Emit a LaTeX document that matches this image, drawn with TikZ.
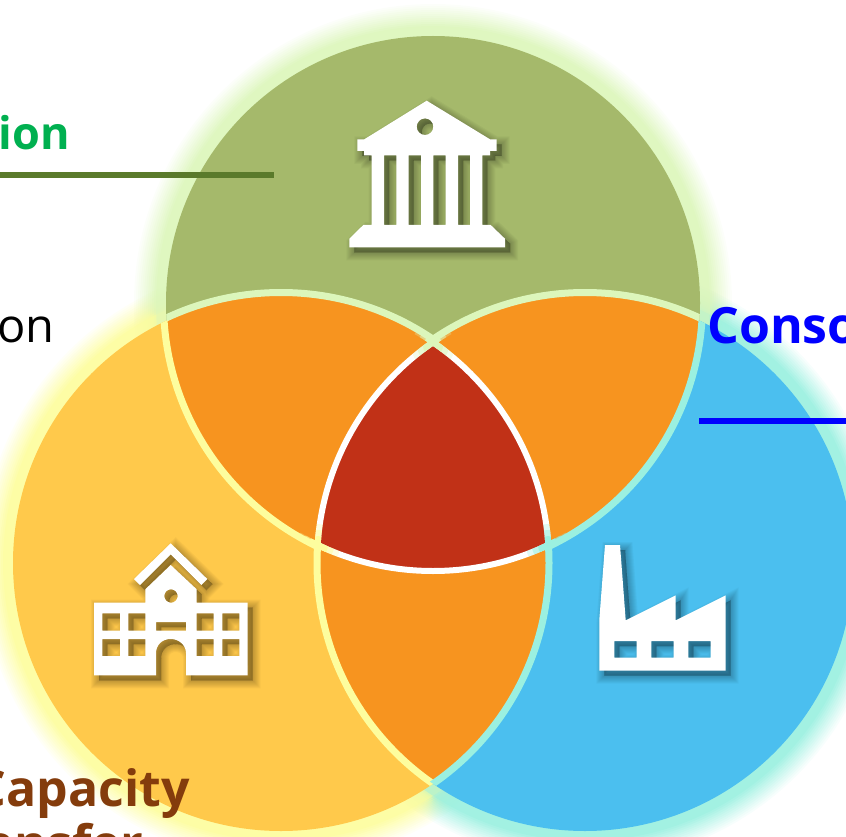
\documentclass[tikz,border=0pt]{standalone}
\usepackage{fontspec}
\setmainfont{Open Sans}
\definecolor{govgreen}{RGB}{165,185,107}
\definecolor{govglow}{RGB}{220,246,187}
\definecolor{schoolyellow}{RGB}{255,201,75}
\definecolor{schoolglow}{RGB}{253,253,158}
\definecolor{firmblue}{RGB}{75,191,239}
\definecolor{firmglow}{RGB}{155,240,224}
\definecolor{lensorange}{RGB}{247,148,31}
\definecolor{corered}{RGB}{193,49,23}
\definecolor{linegreen}{RGB}{90,122,43}
\definecolor{textbrown}{RGB}{132,60,12}
\tikzset{
  bold label/.style={anchor=base west, inner sep=0pt, font=\fontsize{50}{60}\selectfont\bfseries},
  icon/.style={fill=white, even odd rule},
  icon shadow/.style={black, opacity=0.03, even odd rule, shift={(5,5)}, draw=black},
  rule/.style={line width=6pt},
  gap/.style={line width=7pt},
  whitegap/.style={line width=6pt, white},
}
\newcommand{\topdisc}{(433,303) circle (267pt)}
\newcommand{\leftdisc}{(281,563) circle (268pt)}
\newcommand{\rightdisc}{(585,563) circle (268pt)}
\newcommand{\topgap}{(433,303) circle (269.5pt)}
\newcommand{\leftgap}{(281,563) circle (270.5pt)}
\newcommand{\rightgap}{(585,563) circle (270.5pt)}
\newcommand{\topwhite}{(433,303) circle (268pt)}
\newcommand{\leftwhite}{(281,563) circle (268pt)}
\newcommand{\rightwhite}{(585,563) circle (268pt)}
\newcommand{\canvas}{(0,0) rectangle (846,837)}
\newcommand{\bankicon}{(426.7,100.7) -- (490,139.3) -- (496.7,139.3) -- (496.7,151) -- (490,151) -- (490,155.3) -- (482.3,155.3)
  -- (482.3,225) -- (490.7,225) -- (505,238.7) -- (505,247.3) -- (349.3,247.3) -- (349.3,238.7) -- (363.3,225) -- (371.7,225)
  -- (371.7,155.3) -- (364,155.3) -- (364,151) -- (357.3,151) -- (357.3,139.3) -- (364.3,139.3) -- cycle
  (425,126.7) circle (8.3pt)
  (384,155.3) rectangle (396.3,225) (408.7,155.3) rectangle (421,225)
  (433.3,155.3) rectangle (445.7,225) (458,155.3) rectangle (470,225)}
\newcommand{\schoolicon}{(170.7,543.3) -- (207.3,579) -- (201.3,585) -- (170.7,554.3) -- (140,585) -- (134,579) -- cycle
  (170.7,565) -- (196.7,589.3) -- (196.7,602.7) -- (247.7,602.7) -- (247.7,675.3) -- (186,675.3) -- (186,653.3)
  .. controls (186,645) and (179,639) .. (170.7,639) .. controls (162,639) and (156,645) .. (156,653.3)
  -- (156,675.3) -- (94,675.3) -- (94,602.7) -- (145.3,602.7) -- (145.3,589.3) -- cycle
  (171,596) circle (6.7pt) (156,622) rectangle (186,630.7)
  (102.3,613.3) rectangle (120,630.7) (128.3,613.3) rectangle (145.3,630.7)
  (196.7,613.3) rectangle (213.7,630.7) (222.3,613.3) rectangle (239.3,630.7)
  (102.3,639) rectangle (120,656) (128.3,639) rectangle (145.3,656)
  (196.7,639) rectangle (213.7,656) (222.3,639) rectangle (239.3,656)}
\newcommand{\factoryicon}{(605,545) -- (620,545) -- (625.7,620.3) -- (675.7,595.3) -- (675.7,620.3) -- (725.7,595.3)
  -- (725.7,670.7) -- (599.3,670.7) -- (599.3,620) -- cycle
  (614.3,641) rectangle (636.7,657.7) (651.3,641) rectangle (673.7,657.7) (688.3,641) rectangle (710.7,657.7)}
\begin{document}
\begin{tikzpicture}[x=1pt,y=-1pt]
  \useasboundingbox \canvas;
  \clip \canvas;
  % glow behind the discs
  \foreach \d [count=\k] in {32,30,...,10} {
    \pgfmathsetmacro{\o}{1/(14-\k)}
    \fill[schoolglow, opacity=\o] (281,563) circle ({268pt+\d pt});
    \fill[firmglow, opacity=\o] (585,563) circle ({268pt+\d pt});
    \fill[govglow, opacity=\o] (433,303) circle ({267pt+\d pt});
  }
  \fill[schoolyellow] \leftdisc;
  \fill[firmblue] \rightdisc;
  \fill[govgreen] \topdisc;
  % overlaps
  \begin{scope}
    \clip \topdisc;
    \fill[lensorange] \leftdisc;
    \fill[lensorange] \rightdisc;
  \end{scope}
  \begin{scope}
    \clip \leftdisc;
    \fill[lensorange] \rightdisc;
  \end{scope}
  % pale lines, each inside one disc and outside the third
  \begin{scope}[even odd rule]
    \clip \topdisc;
    \clip \canvas \rightdisc;
    \draw[gap, govglow] \leftgap;
  \end{scope}
  \begin{scope}[even odd rule]
    \clip \topdisc;
    \clip \canvas \leftdisc;
    \draw[gap, govglow] \rightgap;
  \end{scope}
  \begin{scope}[even odd rule]
    \clip \leftdisc;
    \clip \canvas \rightdisc;
    \draw[gap, schoolglow] \topgap;
  \end{scope}
  \begin{scope}[even odd rule]
    \clip \leftdisc;
    \clip \canvas \topdisc;
    \draw[gap, schoolglow] \rightdisc;
  \end{scope}
  \begin{scope}[even odd rule]
    \clip \rightdisc;
    \clip \canvas \leftdisc;
    \draw[gap, firmglow] \topgap;
  \end{scope}
  \begin{scope}[even odd rule]
    \clip \rightdisc;
    \clip \canvas \topdisc;
    \draw[gap, firmglow] \leftdisc;
  \end{scope}
  \begin{scope}
    \clip \topdisc;
    \clip \leftdisc;
    \fill[corered] \rightdisc;
    \draw[whitegap] \rightwhite;
  \end{scope}
  \begin{scope}
    \clip \topdisc;
    \clip \rightdisc;
    \draw[whitegap] \leftwhite;
  \end{scope}
  \begin{scope}
    \clip \leftdisc;
    \clip \rightdisc;
    \draw[whitegap] \topwhite;
  \end{scope}
  % the white lines turn pale where they meet
  \foreach \cx/\cy/\c in {433/346/govglow,318/546/schoolglow,548/546/firmglow} {
    \foreach \s/\o in {22/.3,16/.5,10/1} {
      \begin{scope}
        \clip (\cx,\cy) circle (\s pt);
        \draw[whitegap, draw=\c, opacity=\o] \topwhite;
        \draw[whitegap, draw=\c, opacity=\o] \leftwhite;
        \draw[whitegap, draw=\c, opacity=\o] \rightwhite;
      \end{scope}
    }
  }
  % icons with their soft shadows
  \foreach \w in {16,14,...,0} {
    \fill[icon shadow, line width=\w pt] \bankicon;
    \fill[icon shadow, line width=\w pt] \schoolicon;
    \fill[icon shadow, line width=\w pt] \factoryicon;
  }
  \fill[icon] \bankicon;
  \fill[icon] \schoolicon;
  \fill[icon] \factoryicon;
  % leaders and labels
  \coordinate (govstart) at (0,175);
  \coordinate (govend) at (274,175);
  \coordinate (firmstart) at (699,421);
  \coordinate (firmend) at (846,421);
  \draw[rule, linegreen] (govstart) -- (govend);
  \draw[rule, blue] (firmstart) -- (firmend);
  \node[bold label, anchor=base east, font=\fontsize{45}{50}\selectfont\bfseries, text={rgb,255:red,0;green,176;blue,80}] (govlabel) at (70,150) {ion};
  \node[anchor=base east, inner sep=0pt, font=\fontsize{47}{50}\selectfont] (midlabel) at (55,342) {on};
  \node[bold label, text=blue] (firmlabel) at (707,343) {Conso};
  \node[bold label, anchor=base east, text=textbrown] (caplabel) at (190,806) {Capacity};
  \node[bold label, text=textbrown] (caplabeltwo) at (-16,861) {ansfer};
\end{tikzpicture}
\end{document}
